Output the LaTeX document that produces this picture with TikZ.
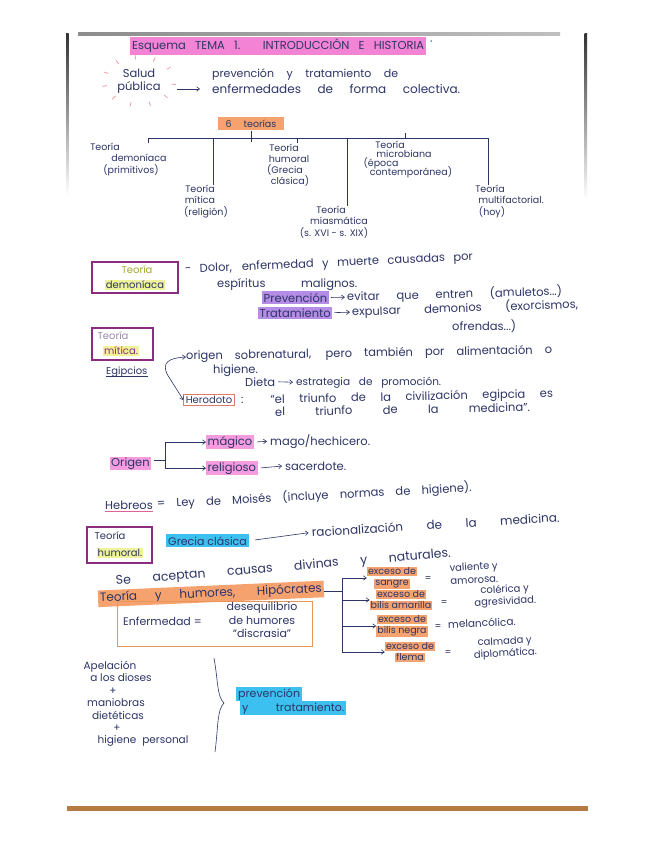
\documentclass[tikz,border=0pt]{standalone}
\usepackage{fontspec}
\setmainfont{Poppins}
\usetikzlibrary{arrows.meta,calc}
\definecolor{ink}{HTML}{2D3566}
\definecolor{titlepink}{HTML}{F383D4}
\definecolor{pinkhl}{HTML}{F59BDF}
\definecolor{pinkline}{HTML}{E0609A}
\definecolor{purplehl}{HTML}{B58CE6}
\definecolor{boxpurple}{HTML}{8C2C80}
\definecolor{yellowhl}{HTML}{EEF39A}
\definecolor{orangehl}{HTML}{F5A26E}
\definecolor{orangebox}{HTML}{E8955A}
\definecolor{cyanhl}{HTML}{3CC0F0}
\definecolor{salmon}{HTML}{E27A6A}
\definecolor{spark}{HTML}{F2A0A8}
\definecolor{brownline}{HTML}{B57B43}
\definecolor{olivetxt}{HTML}{A5A83A}
\definecolor{greypurple}{HTML}{9C8AA8}
\newcommand{\sw}[2]{\makebox[#1pt][s]{#2}}
\newcommand{\hlb}[2]{{\setlength{\fboxsep}{1pt}\colorbox{#1}{#2}}}
\begin{document}
\begin{tikzpicture}[x=1pt,y=-1pt,
  hand/.style={text=ink, inner sep=0pt, anchor=base west, font=\fontsize{11.5}{13}\selectfont},
  treelbl/.style={text=ink, inner sep=0pt, anchor=center, font=\fontsize{9.5}{11}\selectfont},
  inkline/.style={draw=ink, line width=0.6pt},
  arr/.style={draw=ink, line width=0.6pt, -{Straight Barb[length=3pt,width=4.5pt]}},
  pbox/.style={draw=boxpurple, line width=1.2pt, inner sep=0pt},
  sparkline/.style={draw=spark, line width=0.8pt, line cap=round}]
\useasboundingbox (0,0) rectangle (655,848);
\fill[white] (0,0) rectangle (655,848);
% page edges
\shade[left color=black!45, middle color=black!90, right color=black!25] (78,33) rectangle (560,36);
\shade[top color=black!80, bottom color=white] (66,34) rectangle (68.5,195);
\shade[top color=black!80, bottom color=white] (584.5,34) rectangle (587,200);
\fill[brownline] (67,806) rectangle (588,811);

% title
\node[hand, font=\fontsize{11.5}{13}\selectfont, fill=titlepink, inner xsep=2pt, inner ysep=2pt] (title) at (130,50) {\sw{292}{Esquema TEMA 1. INTRODUCCIÓN E HISTORIA}};
\node[hand] (tdot) at (430,46) {·};

% salud publica
\node[treelbl, align=center, font=\fontsize{11.5}{12.5}\selectfont] (salud) at (139,81) {Salud\\pública};
\foreach \a in {0,32,64,96,128,160,192,224,256,288,320} {
  \draw[sparkline] ($(salud)+({33*cos(\a+8)},{22*sin(\a+8)})$) -- ($(salud)+({37*cos(\a+8)},{26*sin(\a+8)})$);
}
\node[hand, font=\fontsize{11}{13}\selectfont] (def1) at (212,78) {\sw{186}{prevención y tratamiento de}};
\node[hand, font=\fontsize{12}{14}\selectfont] (def2) at (212,94) {\sw{248}{enfermedades de forma colectiva.}};
\draw[arr, shorten <=16pt, shorten >=12pt] (salud.east |- 0,89) -- (def2.west |- 0,89);

% six theories tree
\node[treelbl, fill=orangehl, minimum width=66pt, minimum height=13pt, font=\fontsize{9.5}{10}\selectfont] (seis) at (251,124) {6\hspace{12pt}teorías};
\node[treelbl] (t1a) at (105,147) {Teoría};
\node[treelbl] (t1b) at (139,158) {demoníaca};
\node[treelbl] (t1c) at (131,170) {(primitivos)};
\node[treelbl] (t2a) at (200,189) {Teoría};
\node[treelbl] (t2b) at (200,200) {mítica};
\node[treelbl] (t2c) at (206,212) {(religión)};
\node[treelbl] (t3a) at (284,148) {Teoría};
\node[treelbl] (t3b) at (289,159) {humoral};
\node[treelbl] (t3c) at (285,170) {(Grecia};
\node[treelbl] (t3d) at (290,181) {clásica)};
\node[treelbl] (t4a) at (331,210) {Teoría};
\node[treelbl] (t4b) at (339,221) {miasmática};
\node[treelbl] (t4c) at (334,233) {(s. XVI - s. XIX)};
\node[treelbl] (t5a) at (390,145) {Teoría};
\node[treelbl] (t5b) at (404,154) {microbiana};
\node[treelbl] (t5c) at (381,163) {(época};
\node[treelbl] (t5d) at (411,172) {contemporánea)};
\node[treelbl] (t6a) at (490,189) {Teoría};
\node[treelbl] (t6b) at (511,200) {multifactorial.};
\node[treelbl] (t6c) at (492,212) {(hoy)};
\coordinate (barL) at (148,138);
\coordinate (barR) at (488,138);
\coordinate (bm) at (213,138);
\coordinate (bh) at (297,138);
\coordinate (bs) at (347,138);
\coordinate (bc) at (405,138);
\draw[inkline] (barL) -- (barR);
\draw[inkline] (seis.south) -- ++(0,11);
\draw[inkline] (barL) -- ++(0,5);
\draw[inkline] (bm) -- (bm |- t2a.north);
\draw[inkline] (bh) -- ++(0,5);
\draw[inkline] (bs) -- (bs |- t4a.north);
\draw[inkline] (bc) -- ++(0,-5);
\draw[inkline] (barR) -- (barR |- t6a.north);

% teoria demoniaca
\node[pbox, minimum width=86pt, minimum height=31pt] (demb) at (135,277.5) {};
\node[treelbl, text=olivetxt, font=\fontsize{10}{11}\selectfont] (demb1) at (137,270) {Teoría};
\node[treelbl, fill=yellowhl, inner sep=1pt, font=\fontsize{10}{11}\selectfont] (demb2) at (135,285) {demoníaca};
\node[hand, rotate=2.5] (dolor) at (185,273) {\sw{288}{- Dolor, enfermedad y muerte causadas por}};
\node[hand] (espir) at (217,287) {\sw{140}{espíritus malignos.}};
\node[hand, fill=purplehl, inner xsep=1.5pt, inner ysep=1.5pt] (prev) at (262,302) {Prevención};
\node[hand, rotate=1.5] (evitar) at (347,301) {\sw{215}{evitar que entren (amuletos...)}};
\node[hand, fill=purplehl, inner xsep=1.5pt, inner ysep=1.5pt] (trat) at (258,317) {Tratamiento};
\node[hand, rotate=2] (expul) at (352,316) {\sw{226}{expulsar demonios (exorcismos,}};
\node[hand] (ofren) at (452,330) {ofrendas...)};
\draw[arr, shorten <=2pt, shorten >=2pt] (prev.east) -- (evitar.west);
\draw[arr, shorten <=2pt, shorten >=2pt] (trat.east) -- (expul.west);

% teoria mitica
\node[pbox, minimum width=61pt, minimum height=32pt] (mitb) at (122.5,344) {};
\node[treelbl, text=greypurple, font=\fontsize{10}{11}\selectfont] (mitb1) at (113,336) {Teoría};
\node[treelbl, text=boxpurple, fill=yellowhl, inner sep=1pt, font=\fontsize{10}{11}\selectfont] (mitb2) at (121,351) {mítica.};
\node[hand, font=\fontsize{10}{11}\selectfont] (egip) at (106,374) {Egipcios};
\draw[inkline] ([yshift=-2pt]egip.base west) -- ([yshift=-2pt]egip.base east);
\node[hand, rotate=1] (orig) at (186,360) {\sw{366}{origen sobrenatural, pero también por alimentación o}};
\node[hand] (hig) at (213,373) {higiene.};
\node[hand] (dieta) at (245,386) {Dieta};
\node[hand, font=\fontsize{10.5}{13}\selectfont] (estr) at (296,385) {\sw{145}{estrategia de promoción.}};
\draw[arr, shorten <=3pt, shorten >=3pt] (dieta.east) -- (estr.west);
\node[treelbl, draw=salmon, line width=0.8pt, inner xsep=2pt, inner ysep=2pt, font=\fontsize{10}{11}\selectfont] (hero) at (209,400) {Herodoto};
\node[hand, rotate=1.2] (quote1) at (241,404) {\sw{312}{: “el triunfo de la civilización egipcia es}};
\node[hand, rotate=1] (quote2) at (275,416) {\sw{255}{el triunfo de la medicina”.}};
\coordinate (eg) at (167,374);
\draw[arr] (eg) .. controls (162,363) and (168,358) .. (orig.west);
\draw[arr] (eg) -- (hero.west);

% origen
\node[hand, fill=pinkhl, inner xsep=1pt, inner ysep=0.5pt] (origen) at (110,466) {Origen};
\node[hand, fill=pinkhl, inner xsep=1.5pt, inner ysep=1pt] (magico) at (206,445) {mágico};
\node[hand] (mago) at (270,445) {mago/hechicero.};
\node[hand, fill=pinkhl, inner xsep=1.5pt, inner ysep=1pt] (relig) at (206,471) {religioso};
\node[hand] (sacer) at (285,470) {sacerdote.};
\coordinate (oj) at (165,460);
\draw[inkline, shorten <=3pt] (origen.east |- oj) -- (oj);
\draw[arr] (oj) |- (magico.west);
\draw[arr] (oj) |- (relig.west);
\draw[arr, shorten <=3pt, shorten >=3pt] (magico.east) -- (mago.west);
\draw[arr, shorten <=3pt, shorten >=3pt] (relig.east) -- (sacer.west);

% hebreos
\node[hand] (hebr) at (105,509) {Hebreos};
\draw[draw=pinkline, line width=0.9pt] ([yshift=-2.5pt]hebr.base west) -- ([yshift=-2.5pt]hebr.base east);
\node[hand, rotate=3] (ley) at (157,508) {\sw{315}{= Ley de Moisés (incluye normas de higiene).}};

% teoria humoral
\node[pbox, minimum width=65pt, minimum height=36pt] (humb) at (119.5,545) {};
\node[treelbl, font=\fontsize{10}{11}\selectfont] (humb1) at (110,536) {Teoría};
\node[treelbl, fill=yellowhl, inner sep=1pt, font=\fontsize{10}{11}\selectfont] (humb2) at (120,553) {humoral.};
\node[hand, fill=cyanhl, inner xsep=2pt, inner ysep=2pt, font=\fontsize{11}{13}\selectfont] (grecia) at (166,545) {Grecia clásica};
\node[hand, rotate=3.5, font=\fontsize{12}{14}\selectfont] (racional) at (312,537) {\sw{248}{racionalización de la medicina.}};
\draw[arr, shorten <=6pt, shorten >=3pt] (grecia.east) -- (racional.west);
\node[hand, rotate=4.8, font=\fontsize{12.5}{15}\selectfont] (seacep) at (116,585) {\sw{336}{Se aceptan causas divinas y naturales.}};
\node[hand, rotate=2.5, fill=orangehl, inner xsep=2pt, inner ysep=2pt, font=\fontsize{12}{14}\selectfont] (hipo) at (98,602) {\sw{222}{Teoría y humores, Hipócrates}};
\node[draw=orangebox, line width=1pt, minimum width=195pt, minimum height=45pt, inner sep=0pt] (enfb) at (214.5,624) {};
\node[hand, font=\fontsize{11}{13}\selectfont] (enf1) at (123,625) {Enfermedad =};
\node[treelbl, align=center, font=\fontsize{11}{13.5}\selectfont] (enf2) at (262,620) {desequilibrio\\de humores\\“discrasia”};

\node[treelbl, align=center, font=\fontsize{9.5}{11}\selectfont] (h1) at (392,578) {\hlb{orangehl}{exceso de}\\\hlb{orangehl}{sangre}};
\node[treelbl, align=center, font=\fontsize{9.5}{11}\selectfont] (h2) at (401,600) {\hlb{orangehl}{exceso de}\\\hlb{orangehl}{bilis amarilla}};
\node[treelbl, align=center, font=\fontsize{9.5}{11}\selectfont] (h3) at (402,626) {\hlb{orangehl}{exceso de}\\\hlb{orangehl}{bilis negra}};
\node[treelbl, align=center, font=\fontsize{9.5}{11}\selectfont] (h4) at (410,652) {\hlb{orangehl}{exceso de}\\\hlb{orangehl}{flema}};
\node[treelbl] (e1) at (428,579) {=};
\node[treelbl] (e2) at (444,603) {=};
\node[treelbl] (e3) at (438,627) {=};
\node[treelbl] (e4) at (448,653) {=};
\node[treelbl, align=center, rotate=3, font=\fontsize{10}{13}\selectfont] (v1) at (474,573) {valiente y\\amorosa.};
\node[treelbl, align=center, rotate=3, font=\fontsize{10}{12}\selectfont] (v2) at (505,596) {colérica y\\agresividad.};
\node[hand, rotate=2, font=\fontsize{10.5}{12}\selectfont] (v3) at (448,628) {melancólica.};
\node[treelbl, align=center, rotate=3, font=\fontsize{10}{12}\selectfont] (v4) at (505,648) {calmada y\\diplomática.};
\coordinate (hj) at (342,591);
\draw[inkline] (hipo.east |- hj) -- (hj);
\draw[arr] (hj) |- (h1.west);
\draw[arr] (hj) |- (h2.west);
\draw[arr] (hj) |- (h3.west);
\draw[arr] (hj) |- (h4.west);

% apelacion
\node[treelbl, font=\fontsize{10.5}{12}\selectfont] (a1) at (110,667) {Apelación};
\node[treelbl, font=\fontsize{10.5}{12}\selectfont] (a2) at (121,678) {a los dioses};
\node[treelbl, font=\fontsize{10.5}{12}\selectfont] (a3) at (113,691) {+};
\node[treelbl, font=\fontsize{10.5}{12}\selectfont] (a4) at (116,703) {maniobras};
\node[treelbl, font=\fontsize{10.5}{12}\selectfont] (a5) at (118,715) {dietéticas};
\node[treelbl, font=\fontsize{10.5}{12}\selectfont] (a6) at (117,728) {+};
\node[treelbl, font=\fontsize{10.5}{12}\selectfont] (a7) at (143,741) {higiene\hspace{6pt}personal};
\coordinate (brT) at (214,658);
\coordinate (brM) at (224,703);
\coordinate (brB) at (215,752);
\draw[inkline] (brT) .. controls (218,680) and (217,697) .. (brM) .. controls (217,709) and (218,730) .. (brB);
\node[hand, fill=cyanhl, inner xsep=2pt, inner ysep=1.5pt, font=\fontsize{11}{13}\selectfont] (prev2) at (236,697) {prevención};
\node[hand, fill=cyanhl, inner xsep=2pt, inner ysep=1.5pt, font=\fontsize{11}{13}\selectfont] (trat2) at (240,711) {\sw{102}{y tratamiento.}};
\end{tikzpicture}
\end{document}
